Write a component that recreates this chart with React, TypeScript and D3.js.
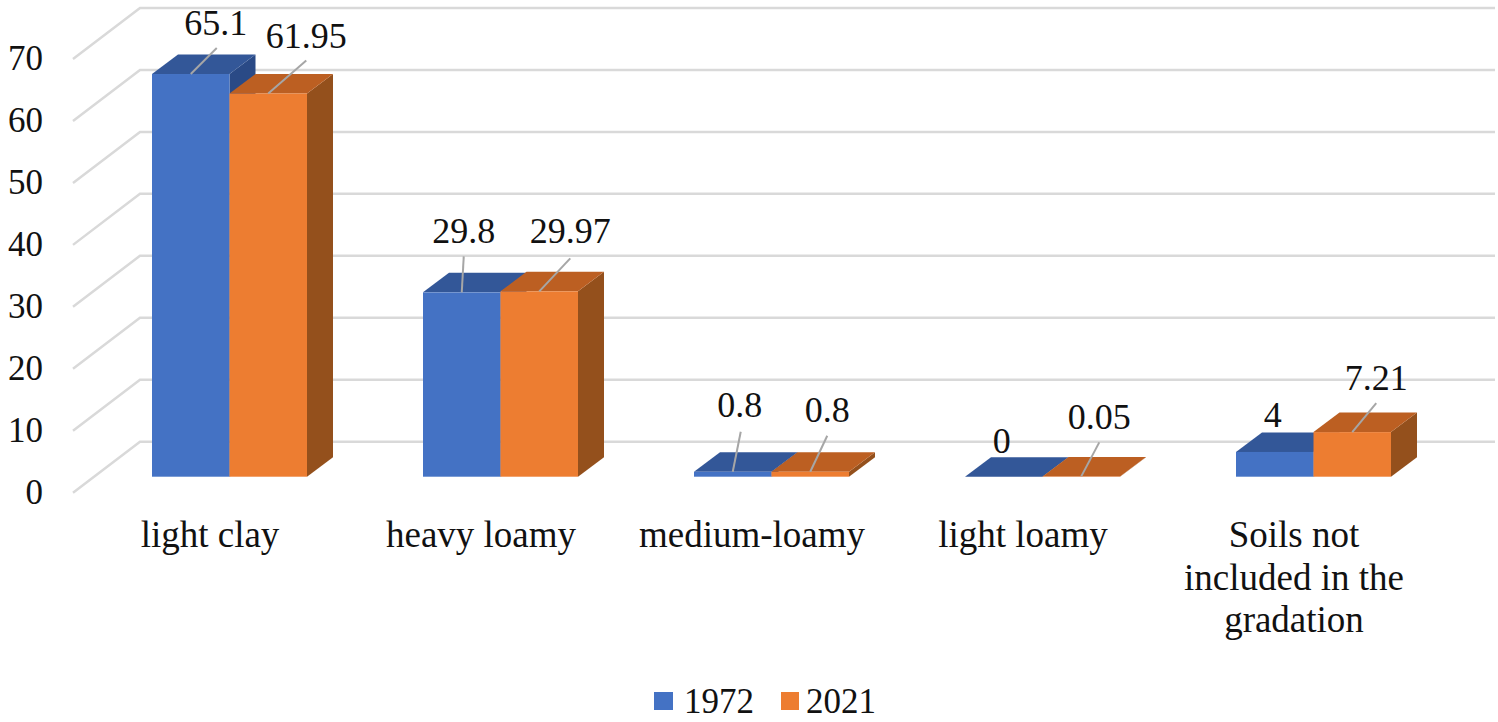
import * as React from 'react'
import * as d3 from 'd3'

const categories = ['light clay', 'heavy loamy', 'medium-loamy', 'light loamy', 'Soils not included in the gradation']
const seriesNames = ['1972', '2021']
const values1972 = [65.1, 29.8, 0.8, 0, 4]
const values2021 = [61.95, 29.97, 0.8, 0.05, 7.21]
const labels1972 = ['65.1', '29.8', '0.8', '0', '4']
const labels2021 = ['61.95', '29.97', '0.8', '0.05', '7.21']
const yTicks = [0, 10, 20, 30, 40, 50, 60, 70]
const categoryLines = [['light clay'], ['heavy loamy'], ['medium-loamy'], ['light loamy'], ['Soils not', 'included in the', 'gradation']]

const width = 1498
const height = 722
const fontFamily = '"Liberation Serif", serif'
const fontSize = 35
const textColor = '#111'

// hand-placed data labels: offset from the front top-centre of each bar
const labelOffsets = [
  [[25, -39], [38, -45]],
  [[2, -49], [31, -48]],
  [[7, -55], [17, -50]],
  [[-2, -24], [18, -47]],
  [[-2, -25], [24, -42]],
]
const leaderOffsets = [
  [[26, -26], [38, -33]],
  [[2, -36], [31, -33]],
  [[8, -40], [17, -36]],
  [null, [18, -34]],
  [null, [24, -29]],
]

const colors = [
  { front: '#4472c4', top: '#335798', side: '#2a4a86' },
  { front: '#ed7d31', top: '#bc5f22', side: '#94501c' },
]

const y = d3.scaleLinear().domain([0, 70]).range([476.7, 43.7])
const wallY = d3.scaleLinear().domain([0, 70]).range([492.7, 59])
const x0 = d3.scaleBand().domain(categories).range([152 - 97, 152 - 97 + 271 * 5]).paddingInner(0).paddingOuter(0)
const x1 = d3.scaleBand().domain(seriesNames).range([97, 97 + 155])

const barDepthX = 26
const barDepthY = 19.5
const wallDepthX = 67
const wallDepthY = 51
const wallRight = 1495

const poly = d3.line()

export default function App() {
  const base = y(0)
  const barW = x1.bandwidth()
  const series = [values1972, values2021]
  const seriesLabels = [labels1972, labels2021]

  return (
    <svg
      width={width}
      height={height}
      style={{ position: 'absolute', left: 0, top: 0, background: '#fff' }}
      fontFamily={fontFamily}
      fontSize={fontSize}
      fill={textColor}
    >
      {yTicks.map(t => {
        const fy = wallY(t)
        return (
          <g key={t}>
            <path
              d={poly([[73, fy], [73 + wallDepthX, fy - wallDepthY], [wallRight, fy - wallDepthY]]) || ''}
              fill="none"
              stroke="#d9d9d9"
              strokeWidth={2.5}
            />
            <text x={43} y={fy + 11} textAnchor="end">{t}</text>
          </g>
        )
      })}

      {categories.map((cat, i) => {
        const gx = x0(cat) as number
        return (
          <g key={cat}>
            {seriesNames.map((name, s) => {
              const left = gx + (x1(name) as number)
              const right = left + barW
              const top = y(series[s][i])
              const c = colors[s]
              const dx = barDepthX
              const dy = barDepthY
              return (
                <g key={name}>
                  <path d={poly([[right, base], [right + dx, base - dy], [right + dx, top - dy], [right, top]]) + 'Z'} fill={c.side} />
                  <path d={poly([[left, top], [left + dx, top - dy], [right + dx, top - dy], [right, top]]) + 'Z'} fill={c.top} />
                  <rect x={left} y={top} width={barW} height={Math.max(base - top, 0)} fill={c.front} />
                </g>
              )
            })}
            {seriesNames.map((name, s) => {
              const cx = gx + (x1(name) as number) + barW / 2
              const top = y(series[s][i])
              const off = labelOffsets[i][s]
              const lead = leaderOffsets[i][s]
              return (
                <g key={name}>
                  {lead && (
                    <line x1={cx} y1={top} x2={cx + lead[0]} y2={top + lead[1]} stroke="#a6a6a6" strokeWidth={2} />
                  )}
                  <text x={cx + off[0]} y={top + off[1]} textAnchor="middle" fontSize={36}>{seriesLabels[s][i]}</text>
                </g>
              )
            })}
            <text textAnchor="middle" fontSize={37}>
              {categoryLines[i].map((line, li) => (
                <tspan key={line} x={gx + 97 + 58} y={547 + li * 42.5}>{line}</tspan>
              ))}
            </text>
          </g>
        )
      })}

      <rect x={654} y={692} width={19} height={18} fill={colors[0].front} />
      <text x={684} y={713}>{seriesNames[0]}</text>
      <rect x={781} y={692} width={18} height={18} fill={colors[1].front} />
      <text x={806} y={713}>{seriesNames[1]}</text>
    </svg>
  )
}
